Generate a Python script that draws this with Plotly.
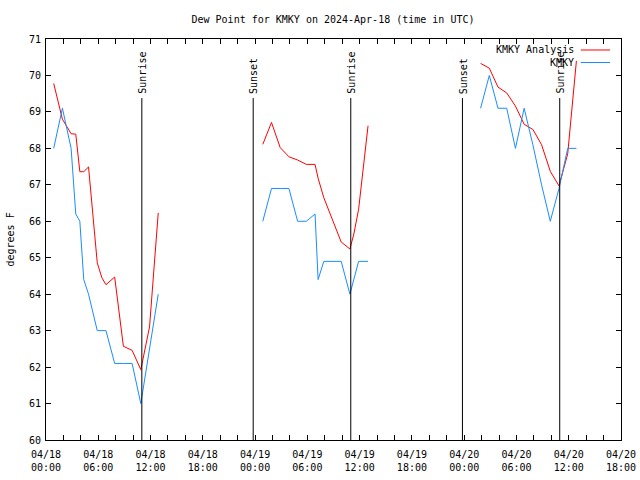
import plotly.graph_objects as go

# ---------------- data ----------------
chart_title = "Dew Point for KMKY on 2024-Apr-18 (time in UTC)"
y_label = "degrees F"
obs_name = "KMKY"
ana_name = "KMKY Analysis"

# Station observations (None = gap in record)
obs_times = [
    "2024-04-18 00:53", "2024-04-18 01:53", "2024-04-18 02:53", "2024-04-18 03:25",
    "2024-04-18 03:53", "2024-04-18 04:20", "2024-04-18 04:53", "2024-04-18 05:53",
    "2024-04-18 06:53", "2024-04-18 07:53", "2024-04-18 08:53", "2024-04-18 09:53",
    "2024-04-18 10:53", "2024-04-18 11:53", "2024-04-18 12:53",
    None,
    "2024-04-19 00:53", "2024-04-19 01:53", "2024-04-19 02:53", "2024-04-19 03:53",
    "2024-04-19 04:53", "2024-04-19 05:53", "2024-04-19 06:53", "2024-04-19 07:14",
    "2024-04-19 07:53", "2024-04-19 08:53", "2024-04-19 09:53", "2024-04-19 10:53",
    "2024-04-19 11:53", "2024-04-19 12:58",
    None,
    "2024-04-20 01:53", "2024-04-20 02:53", "2024-04-20 03:53", "2024-04-20 04:53",
    "2024-04-20 05:53", "2024-04-20 06:53", "2024-04-20 07:53", "2024-04-20 08:53",
    "2024-04-20 09:53", "2024-04-20 10:53", "2024-04-20 11:53", "2024-04-20 12:53",
]
obs_dewpt = [
    68.0, 69.1, 68.0, 66.2,
    66.0, 64.4, 64.0, 63.0,
    63.0, 62.1, 62.1, 62.1,
    61.0, 62.5, 64.0,
    None,
    66.0, 66.9, 66.9, 66.9,
    66.0, 66.0, 66.2, 64.4,
    64.9, 64.9, 64.9, 64.0,
    64.9, 64.9,
    None,
    69.1, 70.0, 69.1, 69.1,
    68.0, 69.1, 68.1, 67.0,
    66.0, 66.9, 68.0, 68.0,
]

# Analysis values
ana_times = [
    "2024-04-18 00:53", "2024-04-18 01:53", "2024-04-18 02:53", "2024-04-18 03:25",
    "2024-04-18 03:53", "2024-04-18 04:20", "2024-04-18 04:53", "2024-04-18 05:53",
    "2024-04-18 06:25", "2024-04-18 06:53", "2024-04-18 07:53", "2024-04-18 08:53",
    "2024-04-18 09:53", "2024-04-18 10:53", "2024-04-18 11:53", "2024-04-18 12:53",
    None,
    "2024-04-19 00:53", "2024-04-19 01:53", "2024-04-19 02:53", "2024-04-19 03:53",
    "2024-04-19 04:53", "2024-04-19 05:53", "2024-04-19 06:53", "2024-04-19 07:14",
    "2024-04-19 07:53", "2024-04-19 08:53", "2024-04-19 09:53", "2024-04-19 10:53",
    "2024-04-19 11:20", "2024-04-19 11:53", "2024-04-19 12:25", "2024-04-19 12:58",
    None,
    "2024-04-20 01:53", "2024-04-20 02:53", "2024-04-20 03:53", "2024-04-20 04:53",
    "2024-04-20 05:53", "2024-04-20 06:53", "2024-04-20 07:53", "2024-04-20 08:53",
    "2024-04-20 09:53", "2024-04-20 10:53", "2024-04-20 11:53", "2024-04-20 12:53",
]
ana_dewpt = [
    69.78, 68.80, 68.40, 68.39,
    67.36, 67.36, 67.49, 64.86,
    64.45, 64.26, 64.47, 62.57,
    62.46, 61.93, 63.10, 66.23,
    None,
    68.11, 68.71, 68.02, 67.77,
    67.68, 67.56, 67.56, 67.18,
    66.65, 66.03, 65.43, 65.24,
    65.65, 66.33, 67.40, 68.62,
    None,
    70.33, 70.20, 69.68, 69.52,
    69.16, 68.66, 68.52, 68.10,
    67.37, 66.97, 67.85, 70.40,
]

sun_times = ["2024-04-18 11:00", "2024-04-18 23:47", "2024-04-19 10:59",
             "2024-04-19 23:48", "2024-04-20 10:58"]
sun_labels = ["Sunrise", "Sunset", "Sunrise", "Sunset", "Sunrise"]

x_start = "2024-04-18 00:00"
x_end = "2024-04-20 18:00"
# tick every 2 hours, labelled every 6 hours
tick_days = ["04/18", "04/19", "04/20"]
tick_dates = ["2024-04-18", "2024-04-19", "2024-04-20"]
y_min, y_max = 60, 71

# ---------------- figure ----------------
FONT = "DejaVu Sans Mono"
RED = "#ff0000"
BLUE = "#1a8cff"

tickvals, ticktext = [], []
for d_lbl, d in zip(tick_days, tick_dates):
    for h in range(0, 24, 2):
        if d == "2024-04-20" and h > 18:
            break
        tickvals.append(f"{d} {h:02d}:00")
        ticktext.append(f"{d_lbl}<br>{h:02d}:00" if h % 6 == 0 else "")

fig = go.Figure()
fig.add_trace(go.Scatter(x=ana_times, y=ana_dewpt, mode="lines", name=ana_name,
                         line=dict(color=RED, width=1), connectgaps=False,
                         showlegend=False))
fig.add_trace(go.Scatter(x=obs_times, y=obs_dewpt, mode="lines", name=obs_name,
                         line=dict(color=BLUE, width=1), connectgaps=False,
                         showlegend=False))

shapes = []
annotations = []
for t, lbl in zip(sun_times, sun_labels):
    shapes.append(dict(type="line", xref="x", yref="y", x0=t, x1=t, y0=y_min, y1=69.38,
                       line=dict(color="black", width=1)))
    annotations.append(dict(x=t, y=69.44, xref="x", yref="y", text=lbl, textangle=-90,
                            showarrow=False, xanchor="center", yanchor="bottom", xshift=1,
                            font=dict(family=FONT, size=10, color="black")))

# gnuplot-style key (text, then sample line)
key_rows = [(ana_name, RED, 0.9726), (obs_name, BLUE, 0.9414)]
for name, col, yy in key_rows:
    annotations.append(dict(x=0.921, y=yy, xref="paper", yref="paper", text=name,
                            showarrow=False, xanchor="right", yanchor="middle",
                            font=dict(family=FONT, size=10, color="black")))
    shapes.append(dict(type="line", xref="paper", yref="paper", x0=0.930, x1=0.981,
                       y0=yy, y1=yy, line=dict(color=col, width=1)))

annotations.append(dict(x=0, y=0.5, xref="paper", yref="paper", text=y_label,
                        textangle=-90, showarrow=False, xanchor="center", yanchor="middle",
                        xshift=-36, font=dict(family=FONT, size=10, color="black")))

fig.update_layout(
    width=640, height=480,
    margin=dict(l=46, r=19, t=39, b=40),
    paper_bgcolor="white", plot_bgcolor="white",
    title=dict(text=chart_title, x=0.5203, xanchor="center", y=0.96, yanchor="middle",
               font=dict(family=FONT, size=10, color="black")),
    font=dict(family=FONT, size=10, color="black"),
    shapes=shapes, annotations=annotations,
    showlegend=False,
)
fig.update_xaxes(type="date", range=[x_start, x_end], tickmode="array",
                 tickvals=tickvals, ticktext=ticktext, ticks="inside", ticklen=5,
                 tickcolor="black", showline=True, linecolor="black", linewidth=1,
                 mirror="allticks", showgrid=False, zeroline=False, automargin=False,
                 ticklabelstandoff=5,
                 tickfont=dict(family=FONT, size=10, color="black"))
fig.update_yaxes(range=[y_min, y_max], tick0=60, dtick=1, ticks="inside", ticklen=5,
                 tickcolor="black", showline=True, linecolor="black", linewidth=1,
                 mirror="allticks", showgrid=False, zeroline=False, automargin=False,
                 ticklabelstandoff=2,
                 tickfont=dict(family=FONT, size=10, color="black"))

fig.write_html("out.html", config={"displayModeBar": False},
               post_script="document.body.style.margin='0px';")
